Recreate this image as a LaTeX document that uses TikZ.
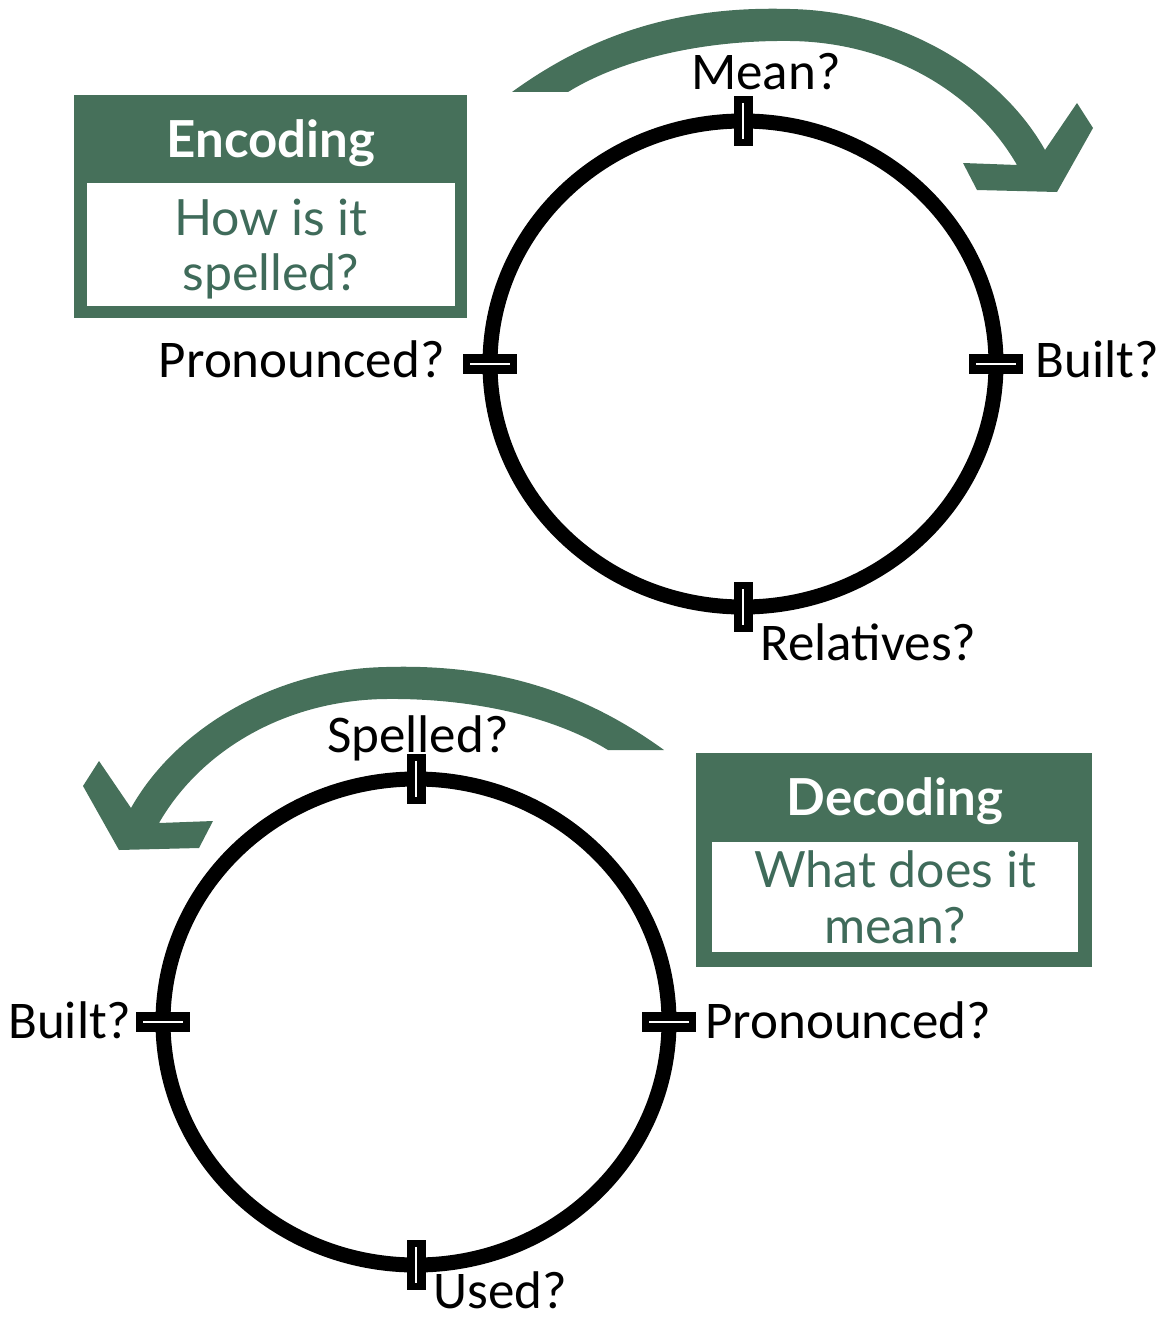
\documentclass[tikz,border=0pt]{standalone}
\usepackage{fontspec}
\usetikzlibrary{shapes.geometric}
\newfontfamily\labelfont{Carlito}
\newfontfamily\boxfont{Lato}
\definecolor{dkgreen}{HTML}{46705A}
\definecolor{txtgreen}{HTML}{3F6B5A}
\newcommand\bentarrowpath{(512,92) .. controls (600,28) and (690,6) .. (790,9)
  .. controls (900,11) and (1000,70) .. (1045,150)
  -- (1077,103) -- (1093,128) -- (1057,192) -- (977,190) -- (963,163) -- (1017,165)
  .. controls (975,92) and (890,42) .. (790,41)
  .. controls (700,40) and (620,60) .. (568,92) -- cycle}
\begin{document}
\begin{tikzpicture}[x=0.5pt,y=-0.5pt,
  ring/.style={ellipse, draw=black, line width=7.5pt, inner sep=0, outer sep=0,
    minimum width=253pt, minimum height=243pt},
  tickv/.style={rectangle, fill=black, inner sep=0, minimum width=9.5pt, minimum height=25pt,
    path picture={\draw[white,line width=1.4pt] ([yshift=-3.5pt]path picture bounding box.north) -- ([yshift=3.5pt]path picture bounding box.south);}},
  tickh/.style={rectangle, fill=black, inner sep=0, minimum width=27pt, minimum height=10pt,
    path picture={\draw[white,line width=1.4pt] ([xshift=3.5pt]path picture bounding box.west) -- ([xshift=-3.5pt]path picture bounding box.east);}},
  lbl/.style={font=\labelfont\fontsize{26.5}{30}\selectfont, inner sep=0, text=black},
  outerbox/.style={rectangle, fill=dkgreen, inner sep=0},
  innerbox/.style={rectangle, fill=white, inner sep=0},
  headtxt/.style={font=\boxfont\bfseries\fontsize{25.5}{28}\selectfont, text=white, inner sep=0},
  bodytxt/.style={font=\boxfont\fontsize{25}{28}\selectfont, text=txtgreen, inner sep=0},
  bandarrow/.style={fill=dkgreen}
]
\useasboundingbox (0,0) rectangle (1165,1322);

% ---------- top cycle ----------
\fill[bandarrow] \bentarrowpath;
\node[ring] (c1) at (743,364) {};
\node[tickv] (c1n) at (c1.north) {};
\node[tickv] (c1s) at (c1.south) {};
\node[tickh] (c1w) at (c1.west) {};
\node[tickh] (c1e) at (c1.east) {};
\node[lbl, anchor=base] (l1n) at (766,90) {Mean?};
\node[lbl, anchor=base east] (l1w) at (445,377) {Pronounced?};
\node[lbl, anchor=base west] (l1e) at (1035,377) {Built?};
\node[lbl, anchor=base west] (l1s) at (760,660) {Relatives?};

\node[outerbox, minimum width=196.5pt, minimum height=111.5pt] (encbox) at (270.5,206.5) {};
\node[innerbox, minimum width=184pt, minimum height=61.5pt] (encin) at (271,244.5) {};
\node[headtxt, anchor=base] (enchead) at (271,157) {Encoding};
\node[bodytxt, anchor=base] (encq1) at (271,235) {How is it};
\node[bodytxt, anchor=base] (encq2) at (271,290) {spelled?};

% ---------- bottom cycle ----------
\begin{scope}[shift={(1176,658)}, xscale=-1]
\fill[bandarrow] \bentarrowpath;
\end{scope}
\node[ring] (c2) at (416,1022) {};
\node[tickv] (c2n) at (c2.north) {};
\node[tickv] (c2s) at (c2.south) {};
\node[tickh] (c2w) at (c2.west) {};
\node[tickh] (c2e) at (c2.east) {};
\node[lbl, anchor=base] (l2n) at (418,752) {Spelled?};
\node[lbl, anchor=base east] (l2w) at (132,1038) {Built?};
\node[lbl, anchor=base west] (l2e) at (705,1038) {Pronounced?};
\node[lbl, anchor=base west] (l2s) at (433,1308) {Used?};

\node[outerbox, minimum width=198pt, minimum height=107pt] (decbox) at (894,860) {};
\node[innerbox, minimum width=183pt, minimum height=55pt] (decin) at (895,897) {};
\node[headtxt, anchor=base] (dechead) at (895,815) {Decoding};
\node[bodytxt, anchor=base] (decq1) at (895,887) {What does it};
\node[bodytxt, anchor=base] (decq2) at (895,943) {mean?};
\end{tikzpicture}
\end{document}
